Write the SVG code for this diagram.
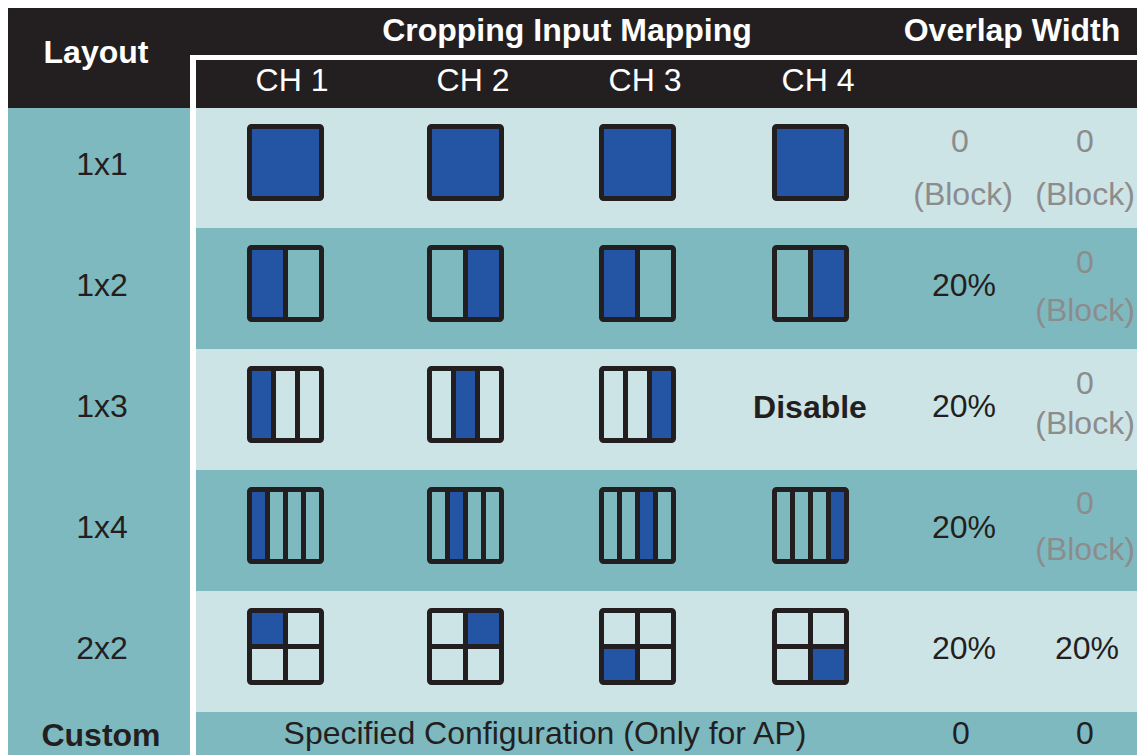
<svg xmlns="http://www.w3.org/2000/svg" xmlns:xlink="http://www.w3.org/1999/xlink" width="1137" height="755" viewBox="0 0 1137 755">
<style>
.dark{fill:#231f20}
.teal{fill:#7fb9c0}
.light{fill:#cde4e6}
.blue{fill:#2455a4}
.fr{fill:none;stroke:#231f20;stroke-width:5;stroke-linejoin:round}
.dv{stroke:#231f20;stroke-width:5}
text{font-family:"Liberation Sans",Arial,Helvetica,sans-serif;font-size:32px;text-anchor:middle}
.hb{fill:#ffffff;font-weight:bold}
.hr{fill:#ffffff}
.t{fill:#231f20}
.tb{fill:#231f20;font-weight:bold}
.g{fill:#8c8c8c}
</style>
<defs>
<rect id="frame" class="fr" x="2.5" y="2.5" width="72" height="72" rx="2"/>
<g id="f1x1"><use xlink:href="#frame" href="#frame"/></g>
<g id="f1x2"><line class="dv" x1="38.5" y1="2.5" x2="38.5" y2="74.5"/><use xlink:href="#frame" href="#frame"/></g>
<g id="f1x3"><line class="dv" x1="26.5" y1="2.5" x2="26.5" y2="74.5"/><line class="dv" x1="50.5" y1="2.5" x2="50.5" y2="74.5"/><use xlink:href="#frame" href="#frame"/></g>
<g id="f1x4"><line class="dv" x1="20.5" y1="2.5" x2="20.5" y2="74.5"/><line class="dv" x1="38.5" y1="2.5" x2="38.5" y2="74.5"/><line class="dv" x1="56.5" y1="2.5" x2="56.5" y2="74.5"/><use xlink:href="#frame" href="#frame"/></g>
<g id="f2x2"><line class="dv" x1="38.5" y1="2.5" x2="38.5" y2="74.5"/><line class="dv" x1="2.5" y1="38.5" x2="74.5" y2="38.5"/><use xlink:href="#frame" href="#frame"/></g>
</defs>
<rect width="1137" height="755" fill="#ffffff"/>

<g id="header">
<rect class="dark" x="8" y="8" width="1129" height="100"/>
<rect class="teal" x="8" y="108" width="182" height="647"/>
<rect fill="#ffffff" x="190" y="55" width="6" height="700"/>
<rect fill="#ffffff" x="190" y="55" width="947" height="5"/>
<text class="hb" x="96" y="63">Layout</text>
<text class="hb" x="567" y="41">Cropping Input Mapping</text>
<text class="hb" x="1012" y="41">Overlap Width</text>
<text class="hr" x="292" y="91">CH 1</text>
<text class="hr" x="473" y="91">CH 2</text>
<text class="hr" x="645" y="91">CH 3</text>
<text class="hr" x="818" y="91">CH 4</text>
</g>

<g id="row-1x1">
<rect class="light" x="196" y="108" width="941" height="120"/>
<text class="t" x="102" y="175">1x1</text>
<g transform="translate(247,124)"><rect class="blue" x="2.5" y="2.5" width="72" height="72"/><use xlink:href="#f1x1" href="#f1x1"/></g>
<g transform="translate(427,124)"><rect class="blue" x="2.5" y="2.5" width="72" height="72"/><use xlink:href="#f1x1" href="#f1x1"/></g>
<g transform="translate(599,124)"><rect class="blue" x="2.5" y="2.5" width="72" height="72"/><use xlink:href="#f1x1" href="#f1x1"/></g>
<g transform="translate(772,124)"><rect class="blue" x="2.5" y="2.5" width="72" height="72"/><use xlink:href="#f1x1" href="#f1x1"/></g>
<text class="g" x="960" y="152">0</text>
<text class="g" x="963" y="205">(Block)</text>
<text class="g" x="1085" y="152">0</text>
<text class="g" x="1085" y="205">(Block)</text>
</g>

<g id="row-1x2">
<rect class="teal" x="196" y="228" width="941" height="121"/>
<text class="t" x="102" y="296">1x2</text>
<g transform="translate(247,245)"><rect class="blue" x="2.5" y="2.5" width="36" height="72"/><use xlink:href="#f1x2" href="#f1x2"/></g>
<g transform="translate(427,245)"><rect class="blue" x="38.5" y="2.5" width="36" height="72"/><use xlink:href="#f1x2" href="#f1x2"/></g>
<g transform="translate(599,245)"><rect class="blue" x="2.5" y="2.5" width="36" height="72"/><use xlink:href="#f1x2" href="#f1x2"/></g>
<g transform="translate(772,245)"><rect class="blue" x="38.5" y="2.5" width="36" height="72"/><use xlink:href="#f1x2" href="#f1x2"/></g>
<text class="t" x="964" y="296">20%</text>
<text class="g" x="1085" y="273">0</text>
<text class="g" x="1085" y="321">(Block)</text>
</g>

<g id="row-1x3">
<rect class="light" x="196" y="349" width="941" height="121"/>
<text class="t" x="102" y="417">1x3</text>
<g transform="translate(247,366)"><rect class="blue" x="2.5" y="2.5" width="24" height="72"/><use xlink:href="#f1x3" href="#f1x3"/></g>
<g transform="translate(427,366)"><rect class="blue" x="26.5" y="2.5" width="24" height="72"/><use xlink:href="#f1x3" href="#f1x3"/></g>
<g transform="translate(599,366)"><rect class="blue" x="50.5" y="2.5" width="24" height="72"/><use xlink:href="#f1x3" href="#f1x3"/></g>
<text class="tb" x="810" y="418">Disable</text>
<text class="t" x="964" y="417">20%</text>
<text class="g" x="1085" y="394">0</text>
<text class="g" x="1085" y="434">(Block)</text>
</g>

<g id="row-1x4">
<rect class="teal" x="196" y="470" width="941" height="121"/>
<text class="t" x="102" y="538">1x4</text>
<g transform="translate(247,487)"><rect class="blue" x="2.5" y="2.5" width="18" height="72"/><use xlink:href="#f1x4" href="#f1x4"/></g>
<g transform="translate(427,487)"><rect class="blue" x="20.5" y="2.5" width="18" height="72"/><use xlink:href="#f1x4" href="#f1x4"/></g>
<g transform="translate(599,487)"><rect class="blue" x="38.5" y="2.5" width="18" height="72"/><use xlink:href="#f1x4" href="#f1x4"/></g>
<g transform="translate(772,487)"><rect class="blue" x="56.5" y="2.5" width="18" height="72"/><use xlink:href="#f1x4" href="#f1x4"/></g>
<text class="t" x="964" y="538">20%</text>
<text class="g" x="1085" y="514">0</text>
<text class="g" x="1085" y="560">(Block)</text>
</g>

<g id="row-2x2">
<rect class="light" x="196" y="591" width="941" height="121"/>
<text class="t" x="102" y="659">2x2</text>
<g transform="translate(247,608)"><rect class="blue" x="2.5" y="2.5" width="36" height="36"/><use xlink:href="#f2x2" href="#f2x2"/></g>
<g transform="translate(427,608)"><rect class="blue" x="38.5" y="2.5" width="36" height="36"/><use xlink:href="#f2x2" href="#f2x2"/></g>
<g transform="translate(599,608)"><rect class="blue" x="2.5" y="38.5" width="36" height="36"/><use xlink:href="#f2x2" href="#f2x2"/></g>
<g transform="translate(772,608)"><rect class="blue" x="38.5" y="38.5" width="36" height="36"/><use xlink:href="#f2x2" href="#f2x2"/></g>
<text class="t" x="964" y="659">20%</text>
<text class="t" x="1087" y="659">20%</text>
</g>

<g id="row-custom">
<rect class="teal" x="196" y="712" width="941" height="43"/>
<text class="tb" x="101" y="746">Custom</text>
<text class="t" x="545" y="744">Specified Configuration (Only for AP)</text>
<text class="t" x="961" y="744">0</text>
<text class="t" x="1085" y="744">0</text>
</g>
<g id="connectors"></g>
</svg>
